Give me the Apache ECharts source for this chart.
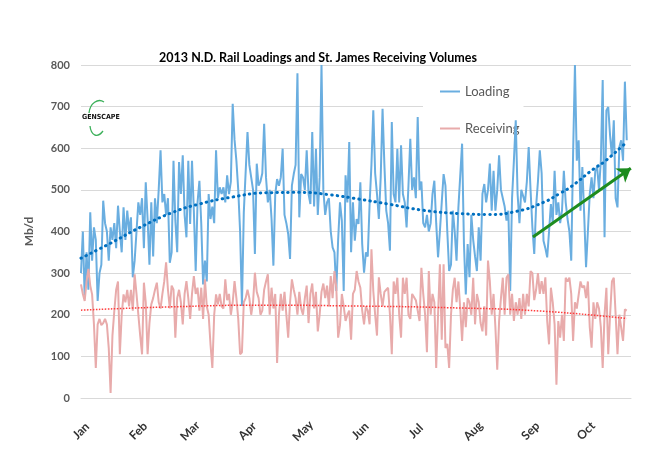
<!DOCTYPE html>
<html><head><meta charset="utf-8">
<script src="https://cdn.jsdelivr.net/npm/echarts@6/dist/echarts.min.js"></script>
<style>html,body{margin:0;padding:0;background:#fff}#c{width:650px;height:450px}</style>
</head><body><div id="c"></div>
<script>
const chartTitle = '2013 N.D. Rail Loadings and St. James Receiving Volumes';
const yAxisName = 'Mb/d';
const monthLabels = ['Jan','Feb','Mar','Apr','May','Jun','Jul','Aug','Sep','Oct'];
const monthStartDays = [0,31,59,90,120,151,181,212,243,273];
const yMin = 0, yMax = 800, yStep = 100;
const dayMax = 297.3;

// daily values, Jan 1 .. Oct 23, 2013
const loading = [
300,400,240,350,260,446,330,410,380,233,
300,320,474,420,400,330,410,380,420,360,
462,400,350,458,380,450,400,434,290,330,
400,470,440,480,360,518,430,320,470,340,
480,420,500,595,470,490,440,480,325,350,
570,426,350,567,490,583,440,386,570,418,
570,450,305,470,522,420,273,330,280,490,
430,460,420,595,480,506,490,506,470,535,
490,520,707,620,570,500,400,221,446,450,
639,560,530,500,346,563,510,520,540,659,
530,470,500,430,318,490,526,510,530,599,
440,420,394,334,510,538,560,780,434,538,
530,500,595,490,466,639,460,599,440,530,
800,500,440,470,480,400,362,350,257,380,
470,426,257,535,470,615,350,470,378,430,
418,518,370,301,350,340,466,560,691,540,
490,430,530,695,560,450,420,354,663,490,
470,599,470,607,490,470,410,510,623,500,
530,480,675,500,520,420,410,440,400,420,
490,522,420,338,400,470,538,510,400,305,
320,450,400,330,458,460,611,370,249,370,
290,440,380,340,305,410,330,490,514,470,
500,563,450,546,450,500,583,500,480,460,
426,450,257,480,570,667,490,420,500,500,
470,520,603,500,410,346,460,520,595,540,
378,360,338,400,466,420,546,440,470,420,
450,546,470,430,400,330,587,800,570,619,
450,555,440,314,400,490,530,480,546,555,
500,570,764,386,691,699,630,580,667,480,
458,603,619,570,760,619];

const receiving = [
273,250,233,280,310,270,249,177,72,177,
190,175,180,190,177,120,12,150,209,260,
280,105,200,249,230,260,220,260,210,297,
250,200,150,105,277,230,105,180,225,240,
260,277,230,215,250,280,326,260,215,270,
260,145,240,260,230,177,250,281,240,190,
250,293,250,265,210,265,190,285,220,200,
129,72,200,249,225,250,220,215,285,235,
250,200,230,281,240,190,105,110,230,240,
260,240,200,230,301,255,240,200,210,260,
280,297,200,265,215,250,84,200,250,210,
255,200,145,230,285,260,240,200,255,215,
200,240,270,180,250,275,215,255,160,200,
255,275,240,270,220,293,240,305,265,145,
175,250,220,185,200,210,140,250,260,305,
280,265,210,177,220,210,177,357,257,200,
150,290,250,220,255,260,265,200,105,280,
250,289,200,145,289,250,289,200,190,250,
250,235,210,185,313,250,200,110,305,200,
250,230,72,200,321,140,321,120,130,72,
200,260,289,230,280,215,137,230,170,240,
230,200,289,177,250,230,180,160,220,150,
330,280,200,250,170,68,185,240,289,200,
289,297,200,250,185,230,200,240,190,250,
200,250,220,305,300,235,260,300,250,281,
250,290,185,129,265,230,177,32,185,145,
200,137,289,280,289,250,137,230,215,215,
280,265,270,240,280,170,121,230,190,230,
215,170,72,200,265,105,200,280,289,200,
105,200,200,137,213,210];

// trendline values at these days
const loadingTrendDays   = [0,16,32,49,64,82,100,118,135,150,166,185,205,220,235,250,259,265,277,283,295];
const loadingTrendValues = [336,372,410,445,466,483,493,494,488,478,466,451,443,441,448,470,492,508,550,568,615];
const receivingTrendDays   = [0,49,98,148,198,248,295];
const receivingTrendValues = [211,219,223,221,217,209,191];

// annotation arrow [day, value]
const arrowFrom = [244.3, 387];
const arrowTo = [297.2, 552];

const pairs = (xs, ys) => xs.map((x, i) => [x, ys[i]]);
const daily = ys => ys.map((v, i) => [i, v]);

const FONT = 'Lato, "Open Sans", sans-serif';
const chart = echarts.init(document.getElementById('c'), null, {renderer: 'canvas'});
chart.setOption({
  animation: false,
  backgroundColor: '#fff',
  title: {
    text: chartTitle, left: 313, top: 46, textAlign: 'center',
    textStyle: {fontFamily: FONT, fontSize: 12.5, fontWeight: 'bold', color: '#000'}
  },
  grid: {left: 81, right: 19, top: 65, bottom: 52},
  legend: {
    data: ['Loading', 'Receiving'],
    orient: 'vertical', left: 423, top: 78,
    padding: [7, 4, 12, 17], itemGap: 24,
    icon: 'rect', itemWidth: 20, itemHeight: 2,
    backgroundColor: '#fff', z: 1,
    textStyle: {fontFamily: FONT, fontSize: 13, color: '#595959'}
  },
  xAxis: {
    type: 'value', min: 0, max: dayMax,
    axisLine: {show: true, lineStyle: {color: '#d9d9d9'}},
    axisTick: {show: false},
    splitLine: {show: false},
    axisLabel: {
      customValues: monthStartDays,
      formatter: v => monthLabels[monthStartDays.indexOf(v)] || '',
      rotate: 45, align: 'center', verticalAlign: 'middle', margin: 33,
      fontFamily: FONT, fontSize: 12, fontWeight: 'bold', color: '#333'
    }
  },
  yAxis: {
    type: 'value', min: yMin, max: yMax, interval: yStep,
    name: yAxisName, nameLocation: 'middle', nameGap: 46, nameRotate: 90,
    nameTextStyle: {fontFamily: FONT, fontSize: 12, fontWeight: 'bold', color: '#595959'},
    axisLine: {show: false}, axisTick: {show: false},
    splitLine: {lineStyle: {color: '#d9d9d9', width: 1}},
    axisLabel: {fontFamily: FONT, fontSize: 11, fontWeight: 'bold', color: '#595959', margin: 11}
  },
  series: [
    {
      name: 'Loading', type: 'line', data: daily(loading), showSymbol: false, z: 3,
      color: '#6aaee0', lineStyle: {color: '#6aaee0', width: 2}
    },
    {
      name: 'Receiving', type: 'line', data: daily(receiving), showSymbol: false, z: 3,
      color: '#e8abab', lineStyle: {color: '#e8abab', width: 2}
    },
    {
      name: 'Loading trend', type: 'line', data: pairs(loadingTrendDays, loadingTrendValues),
      smooth: 0.5, showSymbol: false, silent: true, z: 5,
      lineStyle: {color: '#0070c0', width: 3, type: [0.5, 5], cap: 'round'}
    },
    {
      name: 'Receiving trend', type: 'line', data: pairs(receivingTrendDays, receivingTrendValues),
      smooth: 0.5, showSymbol: false, silent: true, z: 5,
      lineStyle: {color: '#ff3b3b', width: 1.5, type: [1.5, 1.5]}
    },
    {
      name: 'Arrow', type: 'line', data: [], clip: false, silent: true, z: 6,
      markLine: {
        silent: true, symbol: ['none', 'arrow'], symbolSize: 13,
        label: {show: false},
        itemStyle: {color: '#1e8c1e'},
        lineStyle: {color: '#1e8c1e', width: 3, type: 'solid'},
        data: [[{coord: arrowFrom}, {coord: arrowTo}]]
      }
    }
  ],
  graphic: [
    {type: 'text', left: 82, top: 114, z: 10,
     style: {text: 'GENSCAPE', fontFamily: '"DejaVu Sans Condensed", sans-serif', fontSize: 7, fontWeight: 'bold', fill: '#111'}},
    {type: 'bezierCurve', z: 10,
     shape: {x1: 89, y1: 113, cpx1: 90, cpy1: 103, cpx2: 98, cpy2: 98, x2: 104, y2: 102},
     style: {stroke: '#3cb05a', lineWidth: 1.3, fill: null}},
    {type: 'bezierCurve', z: 10,
     shape: {x1: 90, y1: 126, cpx1: 91, cpy1: 135, cpx2: 97, cpy2: 139, x2: 103, y2: 131},
     style: {stroke: '#3cb05a', lineWidth: 1.3, fill: null}}
  ]
});
</script></body></html>
